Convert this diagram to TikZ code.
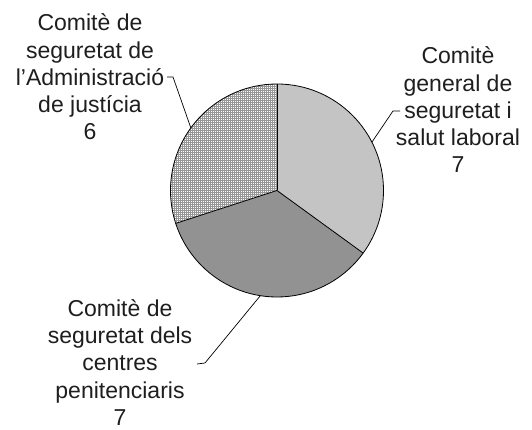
\documentclass[tikz,border=0pt]{standalone}
\usepackage{fontspec}
\setmainfont{Liberation Sans}
\usetikzlibrary{patterns.meta}
\definecolor{lightslice}{RGB}{196,196,196}
\definecolor{darkslice}{RGB}{146,146,146}
\definecolor{dotc}{RGB}{150,150,150}
\definecolor{txt}{RGB}{30,30,30}
\tikzset{
  slice/.style={draw=black, line width=0.8pt, line join=round},
  leader/.style={draw=black, line width=0.7pt},
  lbl/.style={align=center, text=txt, inner sep=2pt, anchor=base,
    font=\fontsize{23}{27.3}\selectfont}
}
\begin{document}
\begin{tikzpicture}[x=1pt,y=1pt]
\useasboundingbox (0,0) rectangle (532,430);
\def\R{106.5}
\coordinate (c) at (277,239.5);
% slices
\fill[lightslice] (c) -- ++(90:\R) arc[start angle=90, end angle=-36, radius=\R] -- cycle;
\fill[darkslice] (c) -- ++(-36:\R) arc[start angle=-36, end angle=-162, radius=\R] -- cycle;
\fill[white] (c) -- ++(198:\R) arc[start angle=198, end angle=90, radius=\R] -- cycle;
\fill[pattern={Lines[angle=0, distance=2pt, line width=0.5pt]}, pattern color=dotc]
  (c) -- ++(198:\R) arc[start angle=198, end angle=90, radius=\R] -- cycle;
\fill[pattern={Lines[angle=90, distance=2pt, line width=0.5pt]}, pattern color=dotc]
  (c) -- ++(198:\R) arc[start angle=198, end angle=90, radius=\R] -- cycle;
\draw[slice] (c) -- ++(90:\R);
\draw[slice] (c) -- ++(-36:\R);
\draw[slice] (c) -- ++(198:\R);
\draw[slice] (c) circle[radius=\R];
% labels
\node[lbl] (lab1) at (90,290) {Comitè de\\seguretat de\\l’Administració\\de justícia\\6};
\node[lbl] (lab2) at (458,257) {Comitè\\general de\\seguretat i\\salut laboral\\7};
\node[lbl] (lab3) at (120,4.5) {Comitè de\\seguretat dels\\centres\\penitenciaris\\7};
% leader points
\path (c) ++(144:\R) coordinate (pL);
\path (c) ++(27:\R) coordinate (pR);
\path (c) ++(-99:\R) coordinate (pB);
\coordinate (kL) at (173,353);
\coordinate (eL) at (167,353);
\coordinate (kR) at (393,319);
\coordinate (eR) at (400,319);
\coordinate (kB) at (205,67);
\coordinate (eB) at (197,66);
\draw[leader] (pL) -- (kL) -- (eL);
\draw[leader] (pR) -- (kR) -- (eR);
\draw[leader] (pB) -- (kB) -- (eB);
\end{tikzpicture}
\end{document}
